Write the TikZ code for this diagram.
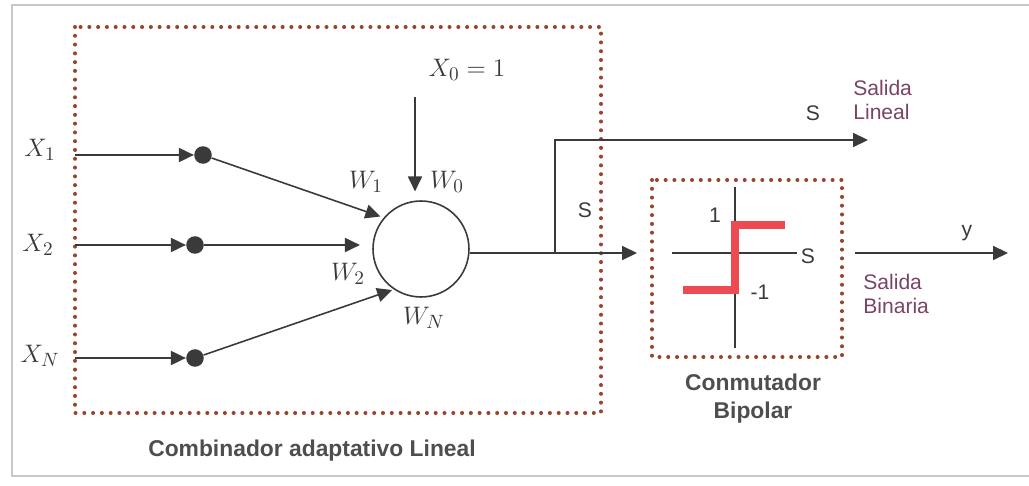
\documentclass[tikz,border=0pt]{standalone}
\usepackage{fontspec}
\setsansfont{Liberation Sans}
\usepackage{tikz}
\usetikzlibrary{positioning, arrows.meta, calc}
\definecolor{box-red}{HTML}{9A4430}
\definecolor{step-red}{HTML}{EC4B52}
\definecolor{out-purple}{HTML}{7A4466}
\definecolor{line-gray}{HTML}{3A3A3A}
\definecolor{frame-gray}{HTML}{C8C8C8}

\begin{document}
\begin{tikzpicture}[x=0.02cm, y=-0.02cm,
    dotbox/.style={draw=box-red, line width=2.3pt, line cap=round, dash pattern=on 0pt off 5pt},
    arr/.style={-{Triangle[length=8.5pt, width=8pt]}, line-gray, line width=0.9pt},
    ln/.style={line-gray, line width=0.9pt},
    pin/.style={circle, fill=line-gray, inner sep=0pt, minimum size=10pt},
    mlab/.style={font=\fontsize{15}{17}\selectfont, text=line-gray, inner sep=1pt},
    slab/.style={font=\sffamily\fontsize{12}{14}\selectfont, text=line-gray, inner sep=1pt},
    olab/.style={font=\sffamily\fontsize{12}{14}\selectfont, text=out-purple, align=left, inner sep=0pt, anchor=west},
    blab/.style={font=\sffamily\bfseries\fontsize{13}{16}\selectfont, text=line-gray!90, align=center},
]
    \useasboundingbox (0,0) rectangle (1029,486);
    \draw[frame-gray, line width=0.6pt] (1029,5) -- (12,5) -- (12,476) -- (1029,476);

    \draw[dotbox] (75,27) rectangle (601,413);
    \draw[dotbox] (652,180) rectangle (842,357);

    \node[mlab] (x1) at (40,150) {$X_1$};
    \node[mlab] (x2) at (38,245) {$X_2$};
    \node[mlab] (xn) at (40,356) {$X_N$};
    \node[mlab] (x0) at (467,70) {$X_0 = 1$};

    \coordinate (in1) at (75,155);
    \coordinate (in2) at (75,245);
    \coordinate (inn) at (75,358);
    \node[pin] (d1) at (203,155) {};
    \node[pin] (d2) at (195,245) {};
    \node[pin] (dn) at (195,358) {};

    \node[draw=line-gray, line width=0.9pt, circle, minimum size=1.92cm, inner sep=0pt] (sum) at (421,249) {};

    \draw[arr] (in1) -- (d1);
    \draw[arr] (in2) -- (d2);
    \draw[arr] (inn) -- (dn);
    \draw[arr, shorten >=2pt] (d1) -- (sum.140);
    \draw[arr, shorten >=7pt] (d2) -- (d2 -| sum.west);
    \draw[arr, shorten >=1pt] (dn) -- (sum.236);
    \coordinate (x0top) at (415,97);
    \draw[arr, shorten >=5pt] (x0top) -- (x0top |- sum.north);

    \node[mlab] (w1) at (366,182) {$W_1$};
    \node[mlab] (w0) at (447,182) {$W_0$};
    \node[mlab] (w2) at (348,274) {$W_2$};
    \node[mlab] (wn) at (424,318) {$W_N$};

    \coordinate (split) at (555,253);
    \coordinate (swin) at (637,253);
    \coordinate (linout) at (868,140);
    \draw[arr] (sum.east |- split) -- (swin);
    \draw[arr] (split) |- (linout);
    \node[slab] (s1) at (813,113) {S};
    \node[slab] (s2) at (585,210) {S};
    \node[olab] (lin) at (853,100) {Salida\\Lineal};

    \draw[ln] (672,253) -- (797,253);
    \draw[ln] (735,187) -- (735,348);
    \draw[step-red, line width=4.5pt] (683,290) -- (735,290) -- (735,225) -- (785,225);
    \node[slab] (one) at (715,215) {1};
    \node[slab] (mone) at (760,292) {-1};
    \node[slab] (s3) at (808,256) {S};

    \coordinate (yin) at (855,253);
    \coordinate (yout) at (1008,253);
    \draw[arr] (yin) -- (yout);
    \node[slab] (y) at (967,233) {y};
    \node[olab] (bin) at (863,294) {Salida\\Binaria};

    \node[blab] (comb) at (312,451) {Combinador adaptativo Lineal};
    \node[blab] (conm) at (753,399) {Conmutador\\Bipolar};
\end{tikzpicture}
\end{document}
